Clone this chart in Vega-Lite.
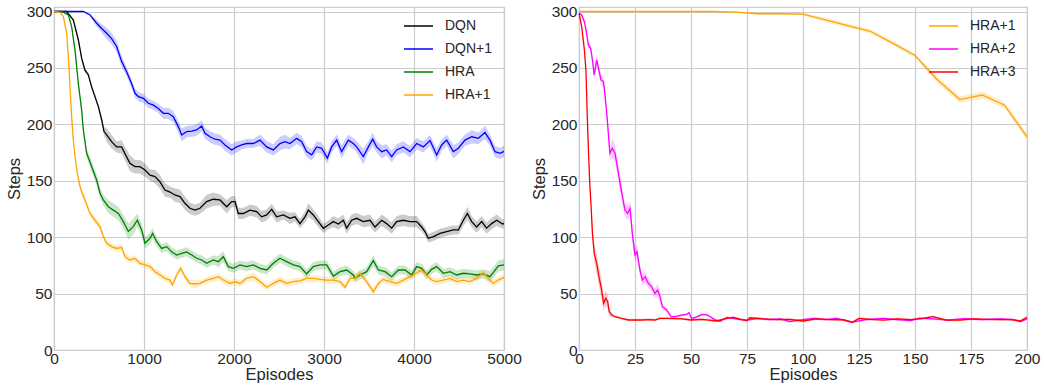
{
"$schema": "https://vega.github.io/schema/vega-lite/v6.json",
"padding": {"left": 5, "top": 3, "right": 0, "bottom": 0},
"config": {
 "font": "Liberation Sans",
 "view": {"stroke": "#cccccc", "strokeWidth": 1.2},
 "axis": {"grid": true, "gridColor": "#cccccc", "gridWidth": 1.2, "domain": false, "ticks": false, "labelFontSize": 15.5, "labelColor": "#262626", "titleFontSize": 16.5, "titleColor": "#262626", "titleFontWeight": "normal", "labelPadding": 2, "labelFlush": false, "labelOverlap": false, "labelBound": false, "format": "d"},
 "axisX": {"labelPadding": 1, "titlePadding": 0},
 "legend": {"symbolType": "stroke", "symbolSize": 841, "symbolStrokeWidth": 1.5, "labelFontSize": 14, "labelColor": "#262626", "labelOffset": 11, "rowPadding": -9, "padding": 0}
},
"datasets": {
"left": [
{"s":"DQN","x":0,"y":300,"lo":300,"hi":300},{"s":"DQN","x":140,"y":300,"lo":300,"hi":300},{"s":"DQN","x":215,"y":292.5,"lo":291.5,"hi":293.5},{"s":"DQN","x":270,"y":275,"lo":273,"hi":277},{"s":"DQN","x":307,"y":258.6,"lo":256.6,"hi":260.6},{"s":"DQN","x":344,"y":248,"lo":246,"hi":250},{"s":"DQN","x":381,"y":244,"lo":242,"hi":246},{"s":"DQN","x":419,"y":233,"lo":231,"hi":235},{"s":"DQN","x":455,"y":224.6,"lo":222.6,"hi":226.6},{"s":"DQN","x":493,"y":215.7,"lo":213.7,"hi":217.7},{"s":"DQN","x":530,"y":204,"lo":201,"hi":207},{"s":"DQN","x":556,"y":193.6,"lo":189.6,"hi":197.6},{"s":"DQN","x":585,"y":190.6,"lo":184.6,"hi":196.6},{"s":"DQN","x":640,"y":184.7,"lo":178.7,"hi":190.7},{"s":"DQN","x":696,"y":180,"lo":175,"hi":185},{"s":"DQN","x":752,"y":180,"lo":174,"hi":186},{"s":"DQN","x":789,"y":174,"lo":168,"hi":180},{"s":"DQN","x":844,"y":165.5,"lo":158.5,"hi":172.5},{"s":"DQN","x":900,"y":162.5,"lo":156.5,"hi":168.5},{"s":"DQN","x":955,"y":162.5,"lo":156.5,"hi":168.5},{"s":"DQN","x":1011,"y":159.6,"lo":153.6,"hi":165.6},{"s":"DQN","x":1067,"y":155,"lo":150,"hi":160},{"s":"DQN","x":1122,"y":153.7,"lo":147.7,"hi":159.7},{"s":"DQN","x":1178,"y":149,"lo":143,"hi":155},{"s":"DQN","x":1233,"y":141.8,"lo":135.8,"hi":147.8},{"s":"DQN","x":1289,"y":140,"lo":135,"hi":145},{"s":"DQN","x":1344,"y":137.4,"lo":131.4,"hi":143.4},{"s":"DQN","x":1400,"y":136,"lo":130,"hi":142},{"s":"DQN","x":1455,"y":130,"lo":124,"hi":136},{"s":"DQN","x":1511,"y":125.6,"lo":120.6,"hi":130.6},{"s":"DQN","x":1567,"y":124,"lo":119,"hi":129},{"s":"DQN","x":1622,"y":125.6,"lo":120.6,"hi":130.6},{"s":"DQN","x":1696,"y":131.5,"lo":125.5,"hi":137.5},{"s":"DQN","x":1770,"y":133.6,"lo":127.6,"hi":139.6},{"s":"DQN","x":1844,"y":133,"lo":128,"hi":138},{"s":"DQN","x":1919,"y":127,"lo":121,"hi":133},{"s":"DQN","x":1974,"y":131.5,"lo":126.5,"hi":136.5},{"s":"DQN","x":2011,"y":131.5,"lo":126.5,"hi":136.5},{"s":"DQN","x":2048,"y":121,"lo":116,"hi":126},{"s":"DQN","x":2104,"y":121,"lo":116,"hi":126},{"s":"DQN","x":2178,"y":124,"lo":119,"hi":129},{"s":"DQN","x":2252,"y":122.6,"lo":117.6,"hi":127.6},{"s":"DQN","x":2307,"y":118,"lo":113,"hi":123},{"s":"DQN","x":2363,"y":119.7,"lo":114.7,"hi":124.7},{"s":"DQN","x":2419,"y":124.7,"lo":119.7,"hi":129.7},{"s":"DQN","x":2474,"y":118,"lo":113,"hi":123},{"s":"DQN","x":2548,"y":119.7,"lo":115.7,"hi":123.7},{"s":"DQN","x":2622,"y":116.7,"lo":111.7,"hi":121.7},{"s":"DQN","x":2678,"y":118,"lo":114,"hi":122},{"s":"DQN","x":2733,"y":112,"lo":108,"hi":116},{"s":"DQN","x":2789,"y":118,"lo":113,"hi":123},{"s":"DQN","x":2826,"y":124,"lo":118,"hi":130},{"s":"DQN","x":2881,"y":119.7,"lo":114.7,"hi":124.7},{"s":"DQN","x":2937,"y":113.8,"lo":108.8,"hi":118.8},{"s":"DQN","x":2993,"y":107.9,"lo":103.9,"hi":111.9},{"s":"DQN","x":3048,"y":110.8,"lo":106.8,"hi":114.8},{"s":"DQN","x":3104,"y":113.8,"lo":108.8,"hi":118.8},{"s":"DQN","x":3159,"y":111.7,"lo":106.7,"hi":116.7},{"s":"DQN","x":3215,"y":115,"lo":110,"hi":120},{"s":"DQN","x":3252,"y":108,"lo":103,"hi":113},{"s":"DQN","x":3307,"y":115,"lo":110,"hi":120},{"s":"DQN","x":3363,"y":116.7,"lo":111.7,"hi":121.7},{"s":"DQN","x":3437,"y":113.8,"lo":108.8,"hi":118.8},{"s":"DQN","x":3511,"y":115,"lo":110,"hi":120},{"s":"DQN","x":3567,"y":109,"lo":104,"hi":114},{"s":"DQN","x":3641,"y":115,"lo":110,"hi":120},{"s":"DQN","x":3696,"y":112,"lo":107,"hi":117},{"s":"DQN","x":3752,"y":108,"lo":103,"hi":113},{"s":"DQN","x":3807,"y":113.8,"lo":108.8,"hi":118.8},{"s":"DQN","x":3881,"y":115,"lo":110,"hi":120},{"s":"DQN","x":3956,"y":113.8,"lo":108.8,"hi":118.8},{"s":"DQN","x":4030,"y":113.8,"lo":108.8,"hi":118.8},{"s":"DQN","x":4085,"y":109,"lo":105,"hi":113},{"s":"DQN","x":4122,"y":105,"lo":101,"hi":109},{"s":"DQN","x":4159,"y":99,"lo":95,"hi":103},{"s":"DQN","x":4215,"y":100.5,"lo":96.5,"hi":104.5},{"s":"DQN","x":4289,"y":103.4,"lo":99.4,"hi":107.4},{"s":"DQN","x":4363,"y":105,"lo":101,"hi":109},{"s":"DQN","x":4437,"y":106.4,"lo":102.4,"hi":110.4},{"s":"DQN","x":4493,"y":106.4,"lo":102.4,"hi":110.4},{"s":"DQN","x":4548,"y":115,"lo":110,"hi":120},{"s":"DQN","x":4593,"y":121,"lo":115,"hi":127},{"s":"DQN","x":4641,"y":113.8,"lo":108.8,"hi":118.8},{"s":"DQN","x":4696,"y":109,"lo":104,"hi":114},{"s":"DQN","x":4752,"y":113.8,"lo":108.8,"hi":118.8},{"s":"DQN","x":4807,"y":108,"lo":103,"hi":113},{"s":"DQN","x":4863,"y":112,"lo":107,"hi":117},{"s":"DQN","x":4919,"y":115,"lo":110,"hi":120},{"s":"DQN","x":4985,"y":111.7,"lo":107.7,"hi":115.7},{"s":"DQN","x":5000,"y":112,"lo":108,"hi":116},
{"s":"DQN+1","x":0,"y":300,"lo":300,"hi":300},{"s":"DQN+1","x":326,"y":300,"lo":300,"hi":300},{"s":"DQN+1","x":400,"y":297,"lo":296,"hi":298},{"s":"DQN+1","x":474,"y":289.6,"lo":286.6,"hi":292.6},{"s":"DQN+1","x":530,"y":285,"lo":281,"hi":289},{"s":"DQN+1","x":585,"y":280.7,"lo":275.7,"hi":285.7},{"s":"DQN+1","x":640,"y":276,"lo":271,"hi":281},{"s":"DQN+1","x":696,"y":269,"lo":264,"hi":274},{"s":"DQN+1","x":752,"y":255.6,"lo":250.6,"hi":260.6},{"s":"DQN+1","x":807,"y":246.7,"lo":242.7,"hi":250.7},{"s":"DQN+1","x":863,"y":236,"lo":232,"hi":240},{"s":"DQN+1","x":900,"y":227.5,"lo":223.5,"hi":231.5},{"s":"DQN+1","x":937,"y":224.6,"lo":220.6,"hi":228.6},{"s":"DQN+1","x":993,"y":223,"lo":219,"hi":227},{"s":"DQN+1","x":1048,"y":218.7,"lo":214.7,"hi":222.7},{"s":"DQN+1","x":1104,"y":217,"lo":213,"hi":221},{"s":"DQN+1","x":1159,"y":214,"lo":210,"hi":218},{"s":"DQN+1","x":1215,"y":209.8,"lo":204.8,"hi":214.8},{"s":"DQN+1","x":1270,"y":209.8,"lo":204.8,"hi":214.8},{"s":"DQN+1","x":1326,"y":206.8,"lo":201.8,"hi":211.8},{"s":"DQN+1","x":1381,"y":198,"lo":193,"hi":203},{"s":"DQN+1","x":1419,"y":190.6,"lo":184.6,"hi":196.6},{"s":"DQN+1","x":1474,"y":193.6,"lo":188.6,"hi":198.6},{"s":"DQN+1","x":1530,"y":194,"lo":189,"hi":199},{"s":"DQN+1","x":1585,"y":195,"lo":190,"hi":200},{"s":"DQN+1","x":1641,"y":198.6,"lo":193.6,"hi":203.6},{"s":"DQN+1","x":1678,"y":192,"lo":187,"hi":197},{"s":"DQN+1","x":1733,"y":189,"lo":184,"hi":194},{"s":"DQN+1","x":1789,"y":186.8,"lo":181.8,"hi":191.8},{"s":"DQN+1","x":1844,"y":186,"lo":181,"hi":191},{"s":"DQN+1","x":1900,"y":181.7,"lo":176.7,"hi":186.7},{"s":"DQN+1","x":1974,"y":177.3,"lo":172.3,"hi":182.3},{"s":"DQN+1","x":2030,"y":180,"lo":175,"hi":185},{"s":"DQN+1","x":2085,"y":181.7,"lo":177.7,"hi":185.7},{"s":"DQN+1","x":2141,"y":183,"lo":179,"hi":187},{"s":"DQN+1","x":2215,"y":183,"lo":179,"hi":187},{"s":"DQN+1","x":2289,"y":186,"lo":181,"hi":191},{"s":"DQN+1","x":2363,"y":180,"lo":175,"hi":185},{"s":"DQN+1","x":2437,"y":177.3,"lo":172.3,"hi":182.3},{"s":"DQN+1","x":2511,"y":183,"lo":177,"hi":189},{"s":"DQN+1","x":2567,"y":184.7,"lo":178.7,"hi":190.7},{"s":"DQN+1","x":2622,"y":183,"lo":178,"hi":188},{"s":"DQN+1","x":2696,"y":187.6,"lo":182.6,"hi":192.6},{"s":"DQN+1","x":2752,"y":184.7,"lo":179.7,"hi":189.7},{"s":"DQN+1","x":2807,"y":175.8,"lo":170.8,"hi":180.8},{"s":"DQN+1","x":2863,"y":172.9,"lo":167.9,"hi":177.9},{"s":"DQN+1","x":2919,"y":180,"lo":175,"hi":185},{"s":"DQN+1","x":2974,"y":178.8,"lo":173.8,"hi":183.8},{"s":"DQN+1","x":3037,"y":170,"lo":165,"hi":175},{"s":"DQN+1","x":3085,"y":180,"lo":175,"hi":185},{"s":"DQN+1","x":3141,"y":186,"lo":181,"hi":191},{"s":"DQN+1","x":3196,"y":175.8,"lo":169.8,"hi":181.8},{"s":"DQN+1","x":3270,"y":186,"lo":181,"hi":191},{"s":"DQN+1","x":3326,"y":183,"lo":178,"hi":188},{"s":"DQN+1","x":3363,"y":180,"lo":175,"hi":185},{"s":"DQN+1","x":3437,"y":171.4,"lo":164.4,"hi":178.4},{"s":"DQN+1","x":3493,"y":180,"lo":175,"hi":185},{"s":"DQN+1","x":3541,"y":186.8,"lo":180.8,"hi":192.8},{"s":"DQN+1","x":3585,"y":180,"lo":175,"hi":185},{"s":"DQN+1","x":3641,"y":175.8,"lo":169.8,"hi":181.8},{"s":"DQN+1","x":3696,"y":177.3,"lo":172.3,"hi":182.3},{"s":"DQN+1","x":3752,"y":171.4,"lo":166.4,"hi":176.4},{"s":"DQN+1","x":3807,"y":177.3,"lo":172.3,"hi":182.3},{"s":"DQN+1","x":3881,"y":180,"lo":175,"hi":185},{"s":"DQN+1","x":3956,"y":175.8,"lo":170.8,"hi":180.8},{"s":"DQN+1","x":4030,"y":183,"lo":178,"hi":188},{"s":"DQN+1","x":4104,"y":180,"lo":175,"hi":185},{"s":"DQN+1","x":4178,"y":185.6,"lo":180.6,"hi":190.6},{"s":"DQN+1","x":4252,"y":172.9,"lo":166.9,"hi":178.9},{"s":"DQN+1","x":4307,"y":181.7,"lo":176.7,"hi":186.7},{"s":"DQN+1","x":4363,"y":186,"lo":181,"hi":191},{"s":"DQN+1","x":4437,"y":175.8,"lo":169.8,"hi":181.8},{"s":"DQN+1","x":4493,"y":178.8,"lo":173.8,"hi":183.8},{"s":"DQN+1","x":4567,"y":186,"lo":181,"hi":191},{"s":"DQN+1","x":4641,"y":189,"lo":183,"hi":195},{"s":"DQN+1","x":4715,"y":187.6,"lo":182.6,"hi":192.6},{"s":"DQN+1","x":4789,"y":192.7,"lo":186.7,"hi":198.7},{"s":"DQN+1","x":4844,"y":186,"lo":181,"hi":191},{"s":"DQN+1","x":4900,"y":175.8,"lo":170.8,"hi":180.8},{"s":"DQN+1","x":4956,"y":174.3,"lo":169.3,"hi":179.3},{"s":"DQN+1","x":5000,"y":176,"lo":171,"hi":181},
{"s":"HRA","x":0,"y":300,"lo":300,"hi":300},{"s":"HRA","x":85,"y":300,"lo":300,"hi":300},{"s":"HRA","x":159,"y":297,"lo":296,"hi":298},{"s":"HRA","x":196,"y":286.6,"lo":285.6,"hi":287.6},{"s":"HRA","x":233,"y":266,"lo":264,"hi":268},{"s":"HRA","x":270,"y":236.4,"lo":234.4,"hi":238.4},{"s":"HRA","x":307,"y":212.8,"lo":209.8,"hi":215.8},{"s":"HRA","x":326,"y":195,"lo":192,"hi":198},{"s":"HRA","x":363,"y":174.3,"lo":170.3,"hi":178.3},{"s":"HRA","x":419,"y":162.5,"lo":157.5,"hi":167.5},{"s":"HRA","x":474,"y":150.7,"lo":145.7,"hi":155.7},{"s":"HRA","x":511,"y":139,"lo":134,"hi":144},{"s":"HRA","x":548,"y":133,"lo":128,"hi":138},{"s":"HRA","x":604,"y":127,"lo":121,"hi":133},{"s":"HRA","x":659,"y":124,"lo":118,"hi":130},{"s":"HRA","x":715,"y":121,"lo":115,"hi":127},{"s":"HRA","x":770,"y":113.8,"lo":107.8,"hi":119.8},{"s":"HRA","x":826,"y":105,"lo":98,"hi":112},{"s":"HRA","x":881,"y":109.3,"lo":102.3,"hi":116.3},{"s":"HRA","x":926,"y":115,"lo":109,"hi":121},{"s":"HRA","x":974,"y":106.4,"lo":100.4,"hi":112.4},{"s":"HRA","x":1011,"y":94.6,"lo":89.6,"hi":99.6},{"s":"HRA","x":1067,"y":99,"lo":94,"hi":104},{"s":"HRA","x":1096,"y":103.4,"lo":98.4,"hi":108.4},{"s":"HRA","x":1141,"y":96,"lo":92,"hi":100},{"s":"HRA","x":1196,"y":90,"lo":86,"hi":94},{"s":"HRA","x":1252,"y":91.6,"lo":87.6,"hi":95.6},{"s":"HRA","x":1307,"y":87,"lo":83,"hi":91},{"s":"HRA","x":1363,"y":84.2,"lo":80.2,"hi":88.2},{"s":"HRA","x":1419,"y":85.7,"lo":81.7,"hi":89.7},{"s":"HRA","x":1474,"y":87,"lo":83,"hi":91},{"s":"HRA","x":1530,"y":84.2,"lo":80.2,"hi":88.2},{"s":"HRA","x":1585,"y":81.3,"lo":77.3,"hi":85.3},{"s":"HRA","x":1641,"y":79.8,"lo":75.8,"hi":83.8},{"s":"HRA","x":1696,"y":76.8,"lo":72.8,"hi":80.8},{"s":"HRA","x":1770,"y":79.8,"lo":75.8,"hi":83.8},{"s":"HRA","x":1826,"y":78.3,"lo":73.3,"hi":83.3},{"s":"HRA","x":1881,"y":82.7,"lo":77.7,"hi":87.7},{"s":"HRA","x":1937,"y":73.9,"lo":69.9,"hi":77.9},{"s":"HRA","x":1993,"y":72.4,"lo":68.4,"hi":76.4},{"s":"HRA","x":2067,"y":75.4,"lo":71.4,"hi":79.4},{"s":"HRA","x":2141,"y":73.9,"lo":69.9,"hi":77.9},{"s":"HRA","x":2215,"y":75.4,"lo":71.4,"hi":79.4},{"s":"HRA","x":2289,"y":72.4,"lo":68.4,"hi":76.4},{"s":"HRA","x":2363,"y":70.9,"lo":66.9,"hi":74.9},{"s":"HRA","x":2437,"y":76.8,"lo":72.8,"hi":80.8},{"s":"HRA","x":2511,"y":81.3,"lo":77.3,"hi":85.3},{"s":"HRA","x":2585,"y":78.3,"lo":74.3,"hi":82.3},{"s":"HRA","x":2659,"y":75.4,"lo":71.4,"hi":79.4},{"s":"HRA","x":2733,"y":73.9,"lo":69.9,"hi":77.9},{"s":"HRA","x":2807,"y":67.4,"lo":63.4,"hi":71.4},{"s":"HRA","x":2881,"y":73.9,"lo":69.9,"hi":77.9},{"s":"HRA","x":2956,"y":75.4,"lo":71.4,"hi":79.4},{"s":"HRA","x":3030,"y":75.4,"lo":71.4,"hi":79.4},{"s":"HRA","x":3104,"y":65.6,"lo":61.6,"hi":69.6},{"s":"HRA","x":3178,"y":69.4,"lo":65.4,"hi":73.4},{"s":"HRA","x":3252,"y":70.9,"lo":66.9,"hi":74.9},{"s":"HRA","x":3326,"y":66.5,"lo":62.5,"hi":70.5},{"s":"HRA","x":3344,"y":63.5,"lo":59.5,"hi":67.5},{"s":"HRA","x":3400,"y":66.5,"lo":62.5,"hi":70.5},{"s":"HRA","x":3474,"y":69.4,"lo":65.4,"hi":73.4},{"s":"HRA","x":3548,"y":79.2,"lo":74.2,"hi":84.2},{"s":"HRA","x":3604,"y":70.9,"lo":66.9,"hi":74.9},{"s":"HRA","x":3678,"y":69.4,"lo":65.4,"hi":73.4},{"s":"HRA","x":3752,"y":65,"lo":61,"hi":69},{"s":"HRA","x":3826,"y":70.9,"lo":66.9,"hi":74.9},{"s":"HRA","x":3900,"y":70.9,"lo":66.9,"hi":74.9},{"s":"HRA","x":3974,"y":66.5,"lo":62.5,"hi":70.5},{"s":"HRA","x":4030,"y":73.9,"lo":69.9,"hi":77.9},{"s":"HRA","x":4085,"y":72.4,"lo":68.4,"hi":76.4},{"s":"HRA","x":4141,"y":66.5,"lo":62.5,"hi":70.5},{"s":"HRA","x":4196,"y":71.5,"lo":67.5,"hi":75.5},{"s":"HRA","x":4252,"y":73.9,"lo":69.9,"hi":77.9},{"s":"HRA","x":4326,"y":68,"lo":64,"hi":72},{"s":"HRA","x":4400,"y":69.4,"lo":65.4,"hi":73.4},{"s":"HRA","x":4474,"y":66.5,"lo":62.5,"hi":70.5},{"s":"HRA","x":4548,"y":68,"lo":64,"hi":72},{"s":"HRA","x":4622,"y":67.4,"lo":63.4,"hi":71.4},{"s":"HRA","x":4696,"y":66.5,"lo":62.5,"hi":70.5},{"s":"HRA","x":4770,"y":67.4,"lo":63.4,"hi":71.4},{"s":"HRA","x":4844,"y":65,"lo":60,"hi":70},{"s":"HRA","x":4889,"y":69.4,"lo":64.4,"hi":74.4},{"s":"HRA","x":4937,"y":74.5,"lo":69.5,"hi":79.5},{"s":"HRA","x":5000,"y":75.4,"lo":70.4,"hi":80.4},
{"s":"HRA+1","x":0,"y":300,"lo":300,"hi":300},{"s":"HRA+1","x":67,"y":299,"lo":299,"hi":299},{"s":"HRA+1","x":104,"y":295.5,"lo":294.5,"hi":296.5},{"s":"HRA+1","x":141,"y":280.7,"lo":279.7,"hi":281.7},{"s":"HRA+1","x":159,"y":260,"lo":259,"hi":261},{"s":"HRA+1","x":178,"y":233.5,"lo":232.5,"hi":234.5},{"s":"HRA+1","x":196,"y":206.8,"lo":205.8,"hi":207.8},{"s":"HRA+1","x":215,"y":186,"lo":184,"hi":188},{"s":"HRA+1","x":233,"y":171.4,"lo":169.4,"hi":173.4},{"s":"HRA+1","x":259,"y":156.6,"lo":153.6,"hi":159.6},{"s":"HRA+1","x":289,"y":144.8,"lo":141.8,"hi":147.8},{"s":"HRA+1","x":307,"y":140.4,"lo":137.4,"hi":143.4},{"s":"HRA+1","x":344,"y":133,"lo":130,"hi":136},{"s":"HRA+1","x":400,"y":121,"lo":118,"hi":124},{"s":"HRA+1","x":455,"y":115,"lo":112,"hi":118},{"s":"HRA+1","x":511,"y":109.3,"lo":106.3,"hi":112.3},{"s":"HRA+1","x":548,"y":100.5,"lo":97.5,"hi":103.5},{"s":"HRA+1","x":585,"y":94.6,"lo":91.6,"hi":97.6},{"s":"HRA+1","x":640,"y":91.6,"lo":88.6,"hi":94.6},{"s":"HRA+1","x":696,"y":90,"lo":87,"hi":93},{"s":"HRA+1","x":752,"y":91,"lo":88,"hi":94},{"s":"HRA+1","x":789,"y":82.7,"lo":79.7,"hi":85.7},{"s":"HRA+1","x":844,"y":79.8,"lo":76.8,"hi":82.8},{"s":"HRA+1","x":900,"y":81.3,"lo":78.3,"hi":84.3},{"s":"HRA+1","x":955,"y":76.8,"lo":73.8,"hi":79.8},{"s":"HRA+1","x":1011,"y":75.4,"lo":72.4,"hi":78.4},{"s":"HRA+1","x":1067,"y":73.9,"lo":70.9,"hi":76.9},{"s":"HRA+1","x":1122,"y":69.4,"lo":66.4,"hi":72.4},{"s":"HRA+1","x":1178,"y":66.5,"lo":63.5,"hi":69.5},{"s":"HRA+1","x":1233,"y":63.5,"lo":60.5,"hi":66.5},{"s":"HRA+1","x":1289,"y":62,"lo":59,"hi":65},{"s":"HRA+1","x":1315,"y":57.6,"lo":54.6,"hi":60.6},{"s":"HRA+1","x":1363,"y":66.5,"lo":63.5,"hi":69.5},{"s":"HRA+1","x":1407,"y":72.4,"lo":69.4,"hi":75.4},{"s":"HRA+1","x":1455,"y":65,"lo":62,"hi":68},{"s":"HRA+1","x":1511,"y":59,"lo":56,"hi":62},{"s":"HRA+1","x":1567,"y":58.5,"lo":54.5,"hi":62.5},{"s":"HRA+1","x":1622,"y":59,"lo":56,"hi":62},{"s":"HRA+1","x":1696,"y":62,"lo":59,"hi":65},{"s":"HRA+1","x":1770,"y":63.5,"lo":60.5,"hi":66.5},{"s":"HRA+1","x":1826,"y":65,"lo":62,"hi":68},{"s":"HRA+1","x":1881,"y":62,"lo":59,"hi":65},{"s":"HRA+1","x":1956,"y":59,"lo":56,"hi":62},{"s":"HRA+1","x":2011,"y":60.6,"lo":57.6,"hi":63.6},{"s":"HRA+1","x":2067,"y":59,"lo":56,"hi":62},{"s":"HRA+1","x":2141,"y":63.5,"lo":60.5,"hi":66.5},{"s":"HRA+1","x":2215,"y":65,"lo":61,"hi":69},{"s":"HRA+1","x":2289,"y":60.6,"lo":57.6,"hi":63.6},{"s":"HRA+1","x":2363,"y":55.6,"lo":52.6,"hi":58.6},{"s":"HRA+1","x":2437,"y":59,"lo":56,"hi":62},{"s":"HRA+1","x":2511,"y":62,"lo":59,"hi":65},{"s":"HRA+1","x":2585,"y":59,"lo":56,"hi":62},{"s":"HRA+1","x":2659,"y":60.6,"lo":57.6,"hi":63.6},{"s":"HRA+1","x":2733,"y":61.2,"lo":58.2,"hi":64.2},{"s":"HRA+1","x":2807,"y":63.5,"lo":60.5,"hi":66.5},{"s":"HRA+1","x":2881,"y":63.5,"lo":60.5,"hi":66.5},{"s":"HRA+1","x":2956,"y":62.6,"lo":59.6,"hi":65.6},{"s":"HRA+1","x":3030,"y":62,"lo":59,"hi":65},{"s":"HRA+1","x":3104,"y":62,"lo":59,"hi":65},{"s":"HRA+1","x":3178,"y":60.6,"lo":57.6,"hi":63.6},{"s":"HRA+1","x":3233,"y":55.6,"lo":52.6,"hi":58.6},{"s":"HRA+1","x":3289,"y":63.5,"lo":60.5,"hi":66.5},{"s":"HRA+1","x":3344,"y":63.5,"lo":60.5,"hi":66.5},{"s":"HRA+1","x":3400,"y":68,"lo":65,"hi":71},{"s":"HRA+1","x":3474,"y":60.6,"lo":57.6,"hi":63.6},{"s":"HRA+1","x":3548,"y":51.7,"lo":48.7,"hi":54.7},{"s":"HRA+1","x":3604,"y":59,"lo":56,"hi":62},{"s":"HRA+1","x":3659,"y":62.6,"lo":59.6,"hi":65.6},{"s":"HRA+1","x":3733,"y":60.6,"lo":57.6,"hi":63.6},{"s":"HRA+1","x":3807,"y":59,"lo":56,"hi":62},{"s":"HRA+1","x":3881,"y":62,"lo":59,"hi":65},{"s":"HRA+1","x":3956,"y":65,"lo":62,"hi":68},{"s":"HRA+1","x":4030,"y":68,"lo":65,"hi":71},{"s":"HRA+1","x":4085,"y":70.9,"lo":67.9,"hi":73.9},{"s":"HRA+1","x":4141,"y":66.5,"lo":63.5,"hi":69.5},{"s":"HRA+1","x":4196,"y":62,"lo":59,"hi":65},{"s":"HRA+1","x":4252,"y":60.6,"lo":57.6,"hi":63.6},{"s":"HRA+1","x":4326,"y":62,"lo":59,"hi":65},{"s":"HRA+1","x":4400,"y":63.5,"lo":60.5,"hi":66.5},{"s":"HRA+1","x":4474,"y":60.6,"lo":57.6,"hi":63.6},{"s":"HRA+1","x":4548,"y":62,"lo":59,"hi":65},{"s":"HRA+1","x":4622,"y":60.6,"lo":57.6,"hi":63.6},{"s":"HRA+1","x":4696,"y":63.5,"lo":60.5,"hi":66.5},{"s":"HRA+1","x":4770,"y":68.6,"lo":65.6,"hi":71.6},{"s":"HRA+1","x":4826,"y":63.5,"lo":60.5,"hi":66.5},{"s":"HRA+1","x":4881,"y":59,"lo":56,"hi":62},{"s":"HRA+1","x":4937,"y":62,"lo":59,"hi":65},{"s":"HRA+1","x":5000,"y":64.4,"lo":61.4,"hi":67.4}
],
"right": [
{"s":"HRA+1","x":0,"y":300,"lo":300,"hi":300},{"s":"HRA+1","x":10,"y":300,"lo":299.5,"hi":300.5},{"s":"HRA+1","x":20,"y":300,"lo":299.5,"hi":300.5},{"s":"HRA+1","x":30,"y":300,"lo":299.5,"hi":300.5},{"s":"HRA+1","x":40,"y":300,"lo":299.5,"hi":300.5},{"s":"HRA+1","x":50,"y":300,"lo":299.5,"hi":300.5},{"s":"HRA+1","x":60,"y":300,"lo":299.5,"hi":300.5},{"s":"HRA+1","x":70,"y":299.5,"lo":299,"hi":300},{"s":"HRA+1","x":80,"y":298,"lo":297,"hi":299},{"s":"HRA+1","x":90,"y":298,"lo":297,"hi":299},{"s":"HRA+1","x":100,"y":297.6,"lo":296.6,"hi":298.6},{"s":"HRA+1","x":110,"y":292.5,"lo":290.5,"hi":294.5},{"s":"HRA+1","x":120,"y":287.5,"lo":285.5,"hi":289.5},{"s":"HRA+1","x":130,"y":282.5,"lo":280.5,"hi":284.5},{"s":"HRA+1","x":140,"y":272,"lo":270,"hi":274},{"s":"HRA+1","x":150,"y":261,"lo":259,"hi":263},{"s":"HRA+1","x":160,"y":239.5,"lo":236.5,"hi":242.5},{"s":"HRA+1","x":170,"y":222,"lo":219,"hi":225},{"s":"HRA+1","x":180,"y":226,"lo":223,"hi":229},{"s":"HRA+1","x":190,"y":217,"lo":214,"hi":220},{"s":"HRA+1","x":200,"y":189,"lo":186,"hi":192},
{"s":"HRA+2","x":0,"y":298.5,"lo":297.5,"hi":299.5},{"s":"HRA+2","x":1.2,"y":297,"lo":295,"hi":299},{"s":"HRA+2","x":2.4,"y":291,"lo":289,"hi":293},{"s":"HRA+2","x":3.4,"y":280.7,"lo":277.7,"hi":283.7},{"s":"HRA+2","x":4.2,"y":270.4,"lo":267.4,"hi":273.4},{"s":"HRA+2","x":5.2,"y":267.4,"lo":264.4,"hi":270.4},{"s":"HRA+2","x":6,"y":257,"lo":253,"hi":261},{"s":"HRA+2","x":6.8,"y":243.8,"lo":238.8,"hi":248.8},{"s":"HRA+2","x":7.9,"y":257,"lo":252,"hi":262},{"s":"HRA+2","x":8.9,"y":248,"lo":243,"hi":253},{"s":"HRA+2","x":9.8,"y":239.4,"lo":234.4,"hi":244.4},{"s":"HRA+2","x":10.9,"y":237.9,"lo":232.9,"hi":242.9},{"s":"HRA+2","x":11.6,"y":226,"lo":221,"hi":231},{"s":"HRA+2","x":12.4,"y":209.8,"lo":204.8,"hi":214.8},{"s":"HRA+2","x":13.1,"y":192,"lo":186,"hi":198},{"s":"HRA+2","x":13.8,"y":174.3,"lo":168.3,"hi":180.3},{"s":"HRA+2","x":14.9,"y":178.8,"lo":169.8,"hi":187.8},{"s":"HRA+2","x":16.1,"y":174.3,"lo":166.3,"hi":182.3},{"s":"HRA+2","x":17.6,"y":156.6,"lo":149.6,"hi":163.6},{"s":"HRA+2","x":19,"y":140.4,"lo":133.4,"hi":147.4},{"s":"HRA+2","x":20.5,"y":124,"lo":118,"hi":130},{"s":"HRA+2","x":21.7,"y":121,"lo":115,"hi":127},{"s":"HRA+2","x":22.8,"y":125.6,"lo":118.6,"hi":132.6},{"s":"HRA+2","x":23.8,"y":103.4,"lo":96.4,"hi":110.4},{"s":"HRA+2","x":25,"y":84.2,"lo":78.2,"hi":90.2},{"s":"HRA+2","x":25.9,"y":87,"lo":81,"hi":93},{"s":"HRA+2","x":27.2,"y":70.9,"lo":65.9,"hi":75.9},{"s":"HRA+2","x":28.3,"y":62,"lo":57,"hi":67},{"s":"HRA+2","x":29.5,"y":65,"lo":60,"hi":70},{"s":"HRA+2","x":31,"y":59,"lo":55,"hi":63},{"s":"HRA+2","x":32.4,"y":56,"lo":52,"hi":60},{"s":"HRA+2","x":33.9,"y":50.2,"lo":46.2,"hi":54.2},{"s":"HRA+2","x":35.1,"y":53.2,"lo":47.2,"hi":59.2},{"s":"HRA+2","x":36.2,"y":47.3,"lo":42.3,"hi":52.3},{"s":"HRA+2","x":37.2,"y":38.4,"lo":35.4,"hi":41.4},{"s":"HRA+2","x":39.1,"y":35.5,"lo":33.5,"hi":37.5},{"s":"HRA+2","x":41.1,"y":29.5,"lo":28.5,"hi":30.5},{"s":"HRA+2","x":42.9,"y":29.5,"lo":28.5,"hi":30.5},{"s":"HRA+2","x":45.8,"y":31,"lo":30,"hi":32},{"s":"HRA+2","x":48.1,"y":31.6,"lo":30.6,"hi":32.6},{"s":"HRA+2","x":49.1,"y":33,"lo":32,"hi":34},{"s":"HRA+2","x":50.3,"y":28,"lo":27,"hi":29},{"s":"HRA+2","x":52,"y":29,"lo":28,"hi":30},{"s":"HRA+2","x":55,"y":31.5,"lo":30.5,"hi":32.5},{"s":"HRA+2","x":57.5,"y":31,"lo":30,"hi":32},{"s":"HRA+2","x":60.5,"y":27,"lo":26,"hi":28},{"s":"HRA+2","x":63,"y":25.5,"lo":24.5,"hi":26.5},{"s":"HRA+2","x":66,"y":28.9,"lo":27.9,"hi":29.9},{"s":"HRA+2","x":70,"y":27.5,"lo":26.5,"hi":28.5},{"s":"HRA+2","x":75,"y":26.5,"lo":25.5,"hi":27.5},{"s":"HRA+2","x":80,"y":28,"lo":27,"hi":29},{"s":"HRA+2","x":85,"y":27,"lo":26,"hi":28},{"s":"HRA+2","x":90,"y":27.5,"lo":26.5,"hi":28.5},{"s":"HRA+2","x":94,"y":25.1,"lo":24.1,"hi":26.1},{"s":"HRA+2","x":100,"y":27,"lo":26,"hi":28},{"s":"HRA+2","x":105,"y":28,"lo":27,"hi":29},{"s":"HRA+2","x":110,"y":27,"lo":26,"hi":28},{"s":"HRA+2","x":115,"y":28,"lo":27,"hi":29},{"s":"HRA+2","x":122,"y":24.8,"lo":23.8,"hi":25.8},{"s":"HRA+2","x":128,"y":27,"lo":26,"hi":28},{"s":"HRA+2","x":136,"y":28,"lo":27,"hi":29},{"s":"HRA+2","x":142,"y":27,"lo":26,"hi":28},{"s":"HRA+2","x":148,"y":26,"lo":25,"hi":27},{"s":"HRA+2","x":152,"y":28.2,"lo":27.2,"hi":29.2},{"s":"HRA+2","x":158,"y":27.5,"lo":26.5,"hi":28.5},{"s":"HRA+2","x":165,"y":26.5,"lo":25.5,"hi":27.5},{"s":"HRA+2","x":172,"y":27.8,"lo":26.8,"hi":28.8},{"s":"HRA+2","x":180,"y":27,"lo":26,"hi":28},{"s":"HRA+2","x":188,"y":27.5,"lo":26.5,"hi":28.5},{"s":"HRA+2","x":194,"y":27,"lo":26,"hi":28},{"s":"HRA+2","x":197,"y":25.1,"lo":24.1,"hi":26.1},{"s":"HRA+2","x":200,"y":27.5,"lo":26.5,"hi":28.5},
{"s":"HRA+3","x":0,"y":298.5,"lo":297.5,"hi":299.5},{"s":"HRA+3","x":1.2,"y":286.6,"lo":284.6,"hi":288.6},{"s":"HRA+3","x":2.4,"y":266,"lo":264,"hi":268},{"s":"HRA+3","x":3.1,"y":248,"lo":246,"hi":250},{"s":"HRA+3","x":3.7,"y":206.8,"lo":204.8,"hi":208.8},{"s":"HRA+3","x":4.2,"y":177.3,"lo":174.3,"hi":180.3},{"s":"HRA+3","x":4.8,"y":147.8,"lo":144.8,"hi":150.8},{"s":"HRA+3","x":5.4,"y":127,"lo":123,"hi":131},{"s":"HRA+3","x":6,"y":103.4,"lo":97.4,"hi":109.4},{"s":"HRA+3","x":6.8,"y":85.7,"lo":77.7,"hi":93.7},{"s":"HRA+3","x":7.9,"y":76.8,"lo":67.8,"hi":85.8},{"s":"HRA+3","x":8.9,"y":65,"lo":56,"hi":74},{"s":"HRA+3","x":10.1,"y":53.2,"lo":44.2,"hi":62.2},{"s":"HRA+3","x":11,"y":41.4,"lo":35.4,"hi":47.4},{"s":"HRA+3","x":11.9,"y":45.8,"lo":38.8,"hi":52.8},{"s":"HRA+3","x":12.8,"y":42.8,"lo":36.8,"hi":48.8},{"s":"HRA+3","x":13.5,"y":34,"lo":30,"hi":38},{"s":"HRA+3","x":14.6,"y":31,"lo":29,"hi":33},{"s":"HRA+3","x":16.1,"y":29.5,"lo":28.5,"hi":30.5},{"s":"HRA+3","x":19,"y":28,"lo":27,"hi":29},{"s":"HRA+3","x":22,"y":26.6,"lo":25.6,"hi":27.6},{"s":"HRA+3","x":28,"y":26.6,"lo":25.6,"hi":27.6},{"s":"HRA+3","x":31,"y":27,"lo":26,"hi":28},{"s":"HRA+3","x":34,"y":26.6,"lo":25.6,"hi":27.6},{"s":"HRA+3","x":36,"y":28,"lo":27,"hi":29},{"s":"HRA+3","x":40,"y":28,"lo":27,"hi":29},{"s":"HRA+3","x":46,"y":27.5,"lo":26.5,"hi":28.5},{"s":"HRA+3","x":50,"y":26.6,"lo":25.6,"hi":27.6},{"s":"HRA+3","x":55,"y":27.2,"lo":26.2,"hi":28.2},{"s":"HRA+3","x":61.5,"y":25.7,"lo":24.7,"hi":26.7},{"s":"HRA+3","x":65,"y":27.5,"lo":26.5,"hi":28.5},{"s":"HRA+3","x":69,"y":28.9,"lo":27.9,"hi":29.9},{"s":"HRA+3","x":72,"y":27.2,"lo":26.2,"hi":28.2},{"s":"HRA+3","x":74.9,"y":26,"lo":25,"hi":27},{"s":"HRA+3","x":76.3,"y":28.6,"lo":27.6,"hi":29.6},{"s":"HRA+3","x":82,"y":27.5,"lo":26.5,"hi":28.5},{"s":"HRA+3","x":88,"y":27,"lo":26,"hi":28},{"s":"HRA+3","x":94,"y":27.2,"lo":26.2,"hi":28.2},{"s":"HRA+3","x":100,"y":25.7,"lo":24.7,"hi":26.7},{"s":"HRA+3","x":106,"y":27.5,"lo":26.5,"hi":28.5},{"s":"HRA+3","x":112,"y":27,"lo":26,"hi":28},{"s":"HRA+3","x":118,"y":26.8,"lo":25.8,"hi":27.8},{"s":"HRA+3","x":122,"y":24.5,"lo":23.5,"hi":25.5},{"s":"HRA+3","x":125,"y":28,"lo":27,"hi":29},{"s":"HRA+3","x":130,"y":27.2,"lo":26.2,"hi":28.2},{"s":"HRA+3","x":136,"y":26.5,"lo":25.5,"hi":27.5},{"s":"HRA+3","x":142,"y":27.5,"lo":26.5,"hi":28.5},{"s":"HRA+3","x":148,"y":27,"lo":26,"hi":28},{"s":"HRA+3","x":153,"y":27.8,"lo":26.8,"hi":28.8},{"s":"HRA+3","x":158,"y":29.5,"lo":28.5,"hi":30.5},{"s":"HRA+3","x":164,"y":26.5,"lo":25.5,"hi":27.5},{"s":"HRA+3","x":170,"y":26.5,"lo":25.5,"hi":27.5},{"s":"HRA+3","x":176,"y":27.5,"lo":26.5,"hi":28.5},{"s":"HRA+3","x":182,"y":27.2,"lo":26.2,"hi":28.2},{"s":"HRA+3","x":188,"y":27,"lo":26,"hi":28},{"s":"HRA+3","x":193,"y":27,"lo":26,"hi":28},{"s":"HRA+3","x":197,"y":25.7,"lo":24.7,"hi":26.7},{"s":"HRA+3","x":200,"y":28.9,"lo":27.9,"hi":29.9}
]
},
"spacing": 75,
"bounds": "flush",
"resolve": {"scale": {"color": "independent", "fill": "independent"}, "legend": {"color": "independent"}},
"hconcat": [
{
 "width": 450, "height": 343,
 "data": {"name": "left"},
 "layer": [
  {"mark": {"type": "area", "opacity": 0.2},
   "encoding": {
    "x": {"field": "x", "type": "quantitative", "scale": {"domain": [0, 5000], "nice": false}, "axis": {"values": [0, 1000, 2000, 3000, 4000, 5000], "title": "Episodes"}},
    "y": {"field": "lo", "type": "quantitative", "scale": {"domain": [0, 304], "nice": false}, "axis": {"values": [0, 50, 100, 150, 200, 250, 300], "title": "Steps"}},
    "y2": {"field": "hi"},
    "fill": {"field": "s", "type": "nominal", "scale": {"domain": ["HRA+1", "HRA", "DQN+1", "DQN"], "range": ["#ffa500", "#008000", "#0000ff", "#000000"]}, "legend": null}
   }},
  {"mark": {"type": "line", "strokeWidth": 1.3},
   "encoding": {
    "x": {"field": "x", "type": "quantitative", "title": "Episodes"},
    "y": {"field": "y", "type": "quantitative", "title": "Steps"},
    "color": {"field": "s", "type": "nominal", "scale": {"domain": ["DQN", "DQN+1", "HRA", "HRA+1"], "range": ["#000000", "#0000ff", "#008000", "#ffa500"]}, "legend": {"orient": "none", "legendX": 349, "legendY": 3.5, "title": null}}
   }}
 ]
},
{
 "width": 448, "height": 343,
 "data": {"name": "right"},
 "layer": [
  {"mark": {"type": "area", "opacity": 0.2},
   "encoding": {
    "x": {"field": "x", "type": "quantitative", "scale": {"domain": [0, 200], "nice": false}, "axis": {"values": [0, 25, 50, 75, 100, 125, 150, 175, 200], "title": "Episodes"}},
    "y": {"field": "lo", "type": "quantitative", "scale": {"domain": [0, 304], "nice": false}, "axis": {"values": [0, 50, 100, 150, 200, 250, 300], "title": "Steps"}},
    "y2": {"field": "hi"},
    "fill": {"field": "s", "type": "nominal", "scale": {"domain": ["HRA+3", "HRA+2", "HRA+1"], "range": ["#ff0000", "#ff00ff", "#ffa500"]}, "legend": null}
   }},
  {"mark": {"type": "line", "strokeWidth": 1.3},
   "encoding": {
    "x": {"field": "x", "type": "quantitative", "title": "Episodes"},
    "y": {"field": "y", "type": "quantitative", "title": "Steps"},
    "color": {"field": "s", "type": "nominal", "scale": {"domain": ["HRA+1", "HRA+2", "HRA+3"], "range": ["#ffa500", "#ff00ff", "#ff0000"]}, "legend": {"orient": "none", "legendX": 349, "legendY": 3.5, "title": null}}
   }}
 ]
}
]
}
